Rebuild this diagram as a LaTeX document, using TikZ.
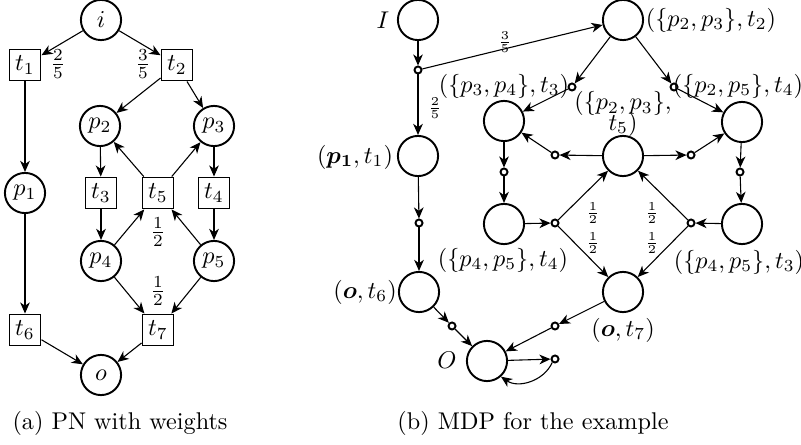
\documentclass[tikz,border=0pt]{standalone}
\usepackage{bm}
\usetikzlibrary{arrows.meta}
\begin{document}
\begin{tikzpicture}[x=0.4132pt,y=-0.4132pt,
  >={Stealth[length=4.6pt,width=4pt,inset=1.4pt]},
  edge/.style={->,line width=0.45pt},
  place/.style={circle,draw,line width=0.8pt,minimum size=16.6pt,inner sep=0pt},
  trans/.style={rectangle,draw,line width=0.8pt,minimum size=12.8pt,inner sep=0pt},
  act/.style={circle,draw,line width=0.8pt,minimum size=2.9pt,inner sep=0pt},
  lbl/.style={inner sep=1pt}]
\useasboundingbox (0,0) rectangle (801,445);
% ---------- (a) PN with weights ----------
\node[place] (i) at (101,20) {$i$};
\node[trans] (t1) at (25,65) {$t_1$};
\node[trans] (t2) at (177,65) {$t_2$};
\node[place] (p1) at (25,193) {$p_1$};
\node[place] (p2) at (100,126) {$p_2$};
\node[place] (p3) at (214,126) {$p_3$};
\node[trans] (t3) at (101,193) {$t_3$};
\node[trans] (t5) at (158,193) {$t_5$};
\node[trans] (t4) at (214,193) {$t_4$};
\node[place] (p4) at (101,261) {$p_4$};
\node[place] (p5) at (214,261) {$p_5$};
\node[trans] (t6) at (25,330) {$t_6$};
\node[trans] (t7) at (158,330) {$t_7$};
\node[place] (o) at (101,375) {$o$};
\node[lbl] (w1) at (58,64) {$\frac{2}{5}$};
\node[lbl] (w2) at (143,64) {$\frac{3}{5}$};
\node[lbl] (w3) at (158,232) {$\frac{1}{2}$};
\node[lbl] (w4) at (158,291) {$\frac{1}{2}$};
\foreach \a/\b in {i/t1,i/t2,t1/p1,p1/t6,t2/p2,t2/p3,p2/t3,p3/t4,t3/p4,t4/p5,
  t5/p2,t5/p3,p4/t5,p5/t5,p4/t7,p5/t7,t6/o,t7/o}
  \draw[edge] (\a) -- (\b);
\node[lbl] (capa) at (120,423) {(a) PN with weights};
% ---------- (b) MDP ----------
\node[place] (sI) at (418,20) {};
\node[lbl] (lI) at (383,20) {$I$};
\node[act] (a0) at (418,70) {};
\node[place] (sP1) at (418,156) {};
\node[lbl] (lP1) at (355,157) {$(\bm{p_1},t_1)$};
\node[act] (a1) at (419,223) {};
\node[place] (sO6) at (419,292) {};
\node[lbl] (lO6) at (365,292) {$(\bm{o},t_6)$};
\node[act] (a2) at (452,326) {};
\node[place] (sO) at (487,361) {};
\node[lbl] (lO) at (447,360) {$O$};
\node[place] (sT2) at (623,20) {};
\node[lbl] (lT2) at (711,20) {$(\{p_2,p_3\},t_2)$};
\node[act] (a3) at (572,87) {};
\node[lbl] (la3) at (504,86) {$(\{p_3,p_4\},t_3)$};
\node[act] (a4) at (674,87) {};
\node[lbl] (la4) at (738,86) {$(\{p_2,p_5\},t_4)$};
\node[place] (sA) at (504,121) {};
\node[place] (sB) at (742,122) {};
\node[place] (sC) at (623,156) {};
\node[lbl,align=center,inner sep=0pt] (lC) at (623,114) {$(\{p_2,p_3\},$\\[-3.5pt]$t_5)$};
\node[act] (a5) at (555,155) {};
\node[act] (a6) at (691,155) {};
\node[act] (a7) at (504,172) {};
\node[act] (a8) at (740,172) {};
\node[place] (sD) at (504,224) {};
\node[lbl] (lD) at (503,260) {$(\{p_4,p_5\},t_4)$};
\node[place] (sE) at (742,224) {};
\node[lbl] (lE) at (739,262) {$(\{p_4,p_5\},t_3)$};
\node[act] (a9) at (555,223) {};
\node[act] (a10) at (691,223) {};
\node[place] (sF) at (623,292) {};
\node[lbl] (lF) at (623,330) {$(\bm{o},t_7)$};
\node[act] (a11) at (555,326) {};
\node[act] (a12) at (555,359) {};
\node[lbl] (r1) at (505,42) {$\scriptstyle\frac{3}{5}$};
\node[lbl] (r2) at (435,108) {$\scriptstyle\frac{2}{5}$};
\node[lbl] (r3) at (593,213) {$\scriptstyle\frac{1}{2}$};
\node[lbl] (r4) at (593,243) {$\scriptstyle\frac{1}{2}$};
\node[lbl] (r5) at (652,213) {$\scriptstyle\frac{1}{2}$};
\node[lbl] (r6) at (652,243) {$\scriptstyle\frac{1}{2}$};
\foreach \a/\b in {sI/a0,a0/sT2,a0/sP1,sT2/a3,sT2/a4,a3/sA,a4/sB,sC/a5,sC/a6,
  a5/sA,a6/sB,sA/a7,a7/sD,sB/a8,a8/sE,sD/a9,sE/a10,a9/sC,a9/sF,a10/sC,a10/sF,
  sP1/a1,a1/sO6,sO6/a2,a2/sO,sF/a11,a11/sO,sO/a12}
  \draw[edge] (\a) -- (\b);
\draw[edge] (a12) to[bend left=50] (sO);
\node[lbl] (capb) at (533,423) {(b) MDP for the example};
\end{tikzpicture}
\end{document}
